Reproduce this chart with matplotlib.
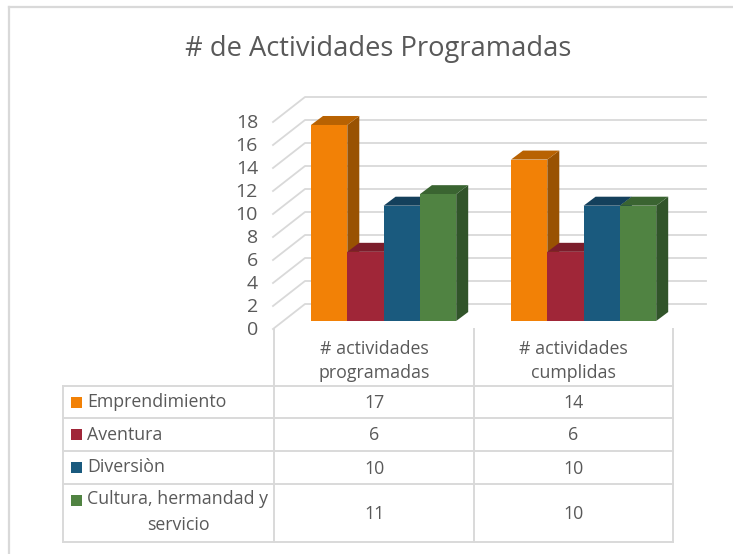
import matplotlib
matplotlib.use("Agg")
import matplotlib.pyplot as plt
from matplotlib.patches import Polygon, Rectangle

plt.rcParams['font.family'] = ['Open Sans', 'DejaVu Sans']

title = "# de Actividades Programadas"
groups = ["# actividades\nprogramadas", "# actividades\ncumplidas"]
series = ["Emprendimiento", "Aventura", "Diversiòn", "Cultura, hermandad y\nservicio"]
programadas = [17, 6, 10, 11]
cumplidas = [14, 6, 10, 10]
y_ticks = [0, 2, 4, 6, 8, 10, 12, 14, 16, 18]

front_colors = ["#F28106", "#A02638", "#1A5A7E", "#508342"]
top_colors = ["#B86202", "#7C1D2B", "#14405C", "#3A6431"]
side_colors = ["#995202", "#7C1D2B", "#14405C", "#31542A"]

GREY = "#595959"
LINE = "#D9D9D9"
TABLE_FS = 12.8

# pixel geometry of the fake 3d box
UNIT = 11.53
BASE_Y = 321
BAR_W = 36.3
DEPTH_X, DEPTH_Y = 12, 9
GROUP_X = [311, 511]


def val_y(v):
    return BASE_Y - v * UNIT


fig = plt.figure(figsize=(7.33, 5.54), dpi=100)
ax = fig.add_axes([0, 0, 1, 1])
ax.set_xlim(0, 733)
ax.set_ylim(554, 0)
ax.axis("off")

# outer border, only top and left show in the screenshot
ax.plot([9, 733], [7, 7], color=LINE, lw=1.6)
ax.plot([9, 9], [7, 554], color=LINE, lw=1.6)

ax.text(378.5, 49, title, ha="center", va="center", fontsize=19.7, color=GREY)

# walls and gridlines
for t in y_ticks:
    y = 329 - t * 11.5
    ax.plot([273, 305, 706], [y, y - 25, y - 25], color=LINE, lw=1.3, zorder=1)
    ax.text(258, y + 1, str(t), ha="right", va="center", fontsize=14, color=GREY)

# bars
for gx, vals in zip(GROUP_X, [programadas, cumplidas]):
    for i, v in enumerate(vals):
        x0 = gx + i * BAR_W
        x1 = x0 + BAR_W
        top = val_y(v)
        z = 3 + i
        ax.add_patch(Polygon([(x1, BASE_Y), (x1 + DEPTH_X, BASE_Y - DEPTH_Y),
                              (x1 + DEPTH_X, top - DEPTH_Y), (x1, top)],
                             fc=side_colors[i], ec="none", zorder=z))
        ax.add_patch(Polygon([(x0, top), (x0 + DEPTH_X, top - DEPTH_Y),
                              (x1 + DEPTH_X, top - DEPTH_Y), (x1, top)],
                             fc=top_colors[i], ec="none", zorder=z))
        ax.add_patch(Rectangle((x0, top), BAR_W, BASE_Y - top,
                               fc=front_colors[i], ec="none", zorder=z))

# data table
row_y = [386, 418, 451, 484, 542]
col_x = [63, 274, 474, 673]
for y in row_y:
    ax.plot([col_x[0], col_x[-1]], [y, y], color=LINE, lw=1.4, zorder=2)
ax.plot([col_x[0], col_x[0]], [row_y[0], row_y[-1]], color=LINE, lw=1.4, zorder=2)
for x in col_x[1:]:
    ax.plot([x, x], [329, row_y[-1]], color=LINE, lw=1.4, zorder=2)

for j, g in enumerate(groups):
    xc = (col_x[j + 1] + col_x[j + 2]) / 2
    line1, line2 = g.split("\n")
    ax.text(xc, 349, line1, ha="center", va="center", fontsize=TABLE_FS, color=GREY)
    ax.text(xc, 373, line2, ha="center", va="center", fontsize=TABLE_FS, color=GREY)

for i, name in enumerate(series):
    yc = (row_y[i] + row_y[i + 1]) / 2
    key_y = yc if i < 3 else 500
    ax.add_patch(Rectangle((71, key_y - 5.5), 10.5, 11, fc=front_colors[i], ec="none"))
    if i < 3:
        ax.text(87, yc, name, ha="left", va="center", fontsize=TABLE_FS, color=GREY)
    else:
        first, second = name.split("\n")
        ax.text(87, 499, first, ha="left", va="center", fontsize=TABLE_FS, color=GREY)
        ax.text(178, 525, second, ha="center", va="center", fontsize=TABLE_FS, color=GREY)
    for j, vals in enumerate([programadas, cumplidas]):
        xc = (col_x[j + 1] + col_x[j + 2]) / 2
        ax.text(xc, yc + 1, str(vals[i]), ha="center", va="center", fontsize=TABLE_FS, color=GREY)

fig.savefig("out.png", dpi=100)
